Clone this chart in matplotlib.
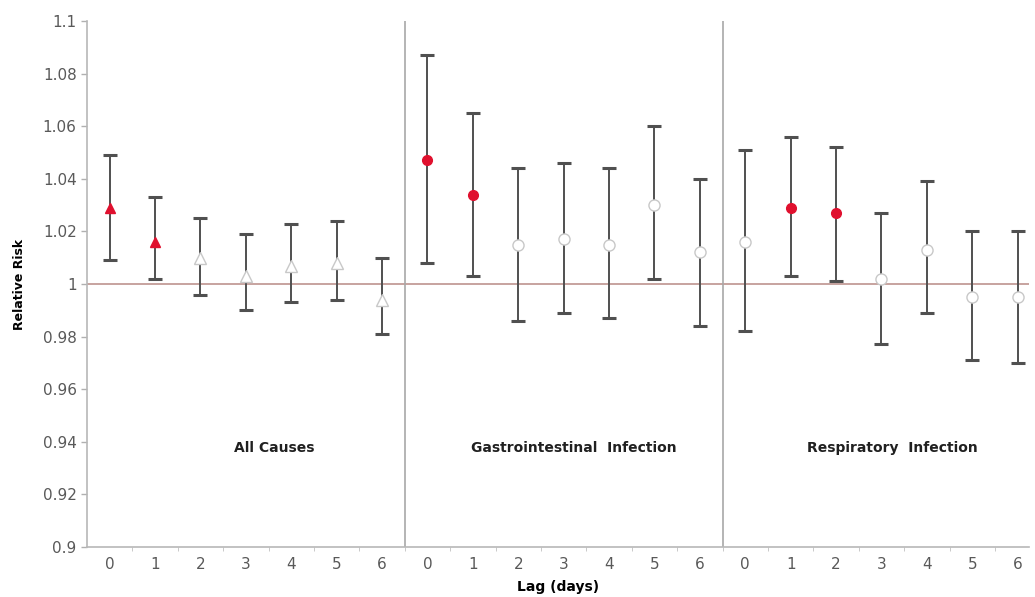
"""Relative risk by lag for three outcome groups."""
import matplotlib.pyplot as plt
import numpy as np

# Lag days and groups
lags = [0, 1, 2, 3, 4, 5, 6]
groups = ["All Causes", "Gastrointestinal  Infection", "Respiratory  Infection"]

# Relative risk estimates and 95% CI per group
all_rr = [1.029, 1.016, 1.010, 1.003, 1.007, 1.008, 0.994]
all_lo = [1.009, 1.002, 0.996, 0.990, 0.993, 0.994, 0.981]
all_hi = [1.049, 1.033, 1.025, 1.019, 1.023, 1.024, 1.010]

gi_rr = [1.047, 1.034, 1.015, 1.017, 1.015, 1.030, 1.012]
gi_lo = [1.008, 1.003, 0.986, 0.989, 0.987, 1.002, 0.984]
gi_hi = [1.087, 1.065, 1.044, 1.046, 1.044, 1.060, 1.040]

resp_rr = [1.016, 1.029, 1.027, 1.002, 1.013, 0.995, 0.995]
resp_lo = [0.982, 1.003, 1.001, 0.977, 0.989, 0.971, 0.970]
resp_hi = [1.051, 1.056, 1.052, 1.027, 1.039, 1.020, 1.020]

# significant (CI excludes 1) drawn in red
all_sig = [True, True, False, False, False, False, False]
gi_sig = [True, True, False, False, False, False, False]
resp_sig = [False, True, True, False, False, False, False]


def main():
    fig = plt.figure(figsize=(10.35, 5.97), dpi=100)
    ax = fig.add_axes([87 / 1035, 50 / 597, 942 / 1035, 526 / 597])

    series = [
        (all_rr, all_lo, all_hi, all_sig, "^"),
        (gi_rr, gi_lo, gi_hi, gi_sig, "o"),
        (resp_rr, resp_lo, resp_hi, resp_sig, "o"),
    ]
    n = len(lags)
    for g, (rr, lo, hi, sig, mk) in enumerate(series):
        x = np.arange(n) + g * n
        rr = np.array(rr)
        yerr = [rr - np.array(lo), np.array(hi) - rr]
        ax.errorbar(x, rr, yerr=yerr, fmt="none", ecolor="#505050",
                    elinewidth=1.4, capsize=5, capthick=2.2, zorder=2)
        for xi, yi, s in zip(x, rr, sig):
            if s:
                ax.plot(xi, yi, marker=mk, ms=7, color="#e0102e",
                        mec="#e0102e", zorder=3)
            else:
                ax.plot(xi, yi, marker=mk, ms=8, mfc="white",
                        mec="#c8c8c8", mew=1.0, zorder=3)

    ax.axhline(1.0, color="#b88a85", lw=1.1, zorder=1)
    for b in [n - 0.5, 2 * n - 0.5]:
        ax.axvline(b, color="#a8a8a8", lw=1.2, zorder=1)

    yt = np.round(np.arange(0.9, 1.1001, 0.02), 2)
    ax.set_yticks(yt)
    ax.set_yticklabels([f"{v:g}" for v in yt])
    ax.set_xticks(np.arange(3 * n))
    ax.set_xticklabels([str(l) for l in lags] * 3)
    ax.set_xticks(np.arange(3 * n - 1) + 0.5, minor=True)
    ax.set_xlim(-0.5, 3 * n - 0.75)
    ax.set_ylim(0.9, 1.1)

    ax.tick_params(axis="y", colors="#b0b0b0", labelcolor="#595959",
                   labelsize=11, length=4, width=1)
    ax.tick_params(axis="x", which="major", length=0, pad=7,
                   labelcolor="#595959", labelsize=11)
    ax.tick_params(axis="x", which="minor", length=3, colors="#c0c0c0")
    for side in ["top", "right"]:
        ax.spines[side].set_visible(False)
    for side in ["left", "bottom"]:
        ax.spines[side].set_color("#b8b8b8")
        ax.spines[side].set_linewidth(1.2)

    ax.set_ylabel("Relative Risk", fontsize=9, fontweight="bold", labelpad=12)
    ax.set_xlabel("Lag (days)", fontsize=10, fontweight="bold", labelpad=6)

    offsets = [0.63, 0.22, 0.25]
    for g, name in enumerate(groups):
        ax.text(g * n + (n - 1) / 2 + offsets[g], 0.9375, name,
                ha="center", va="center", fontsize=10, fontweight="bold",
                color="#202020")

    fig.savefig("out.png", dpi=100)


if __name__ == "__main__":
    main()
